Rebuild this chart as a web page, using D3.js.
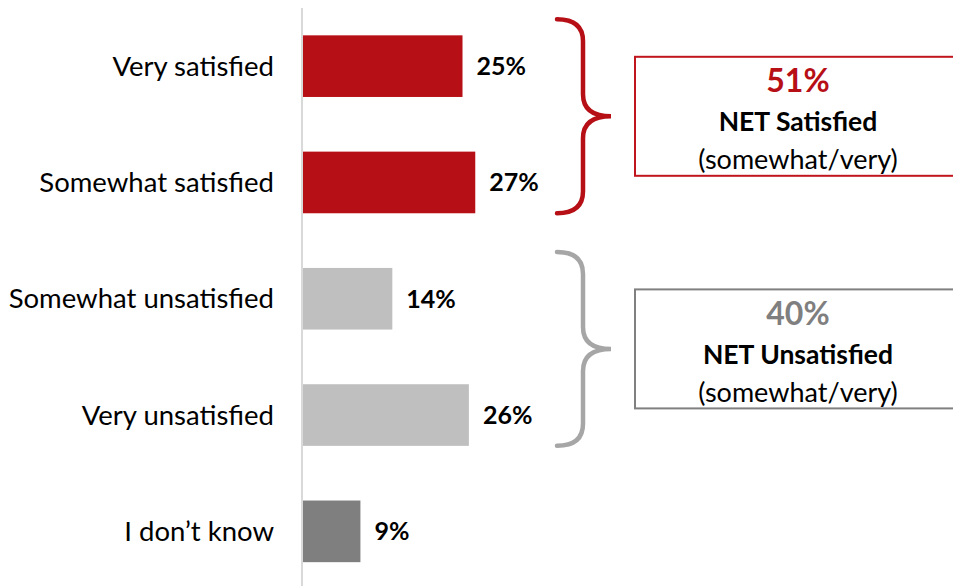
<!DOCTYPE html>
<html>
<head>
<meta charset="utf-8">
<script src="https://cdn.jsdelivr.net/npm/d3@7"></script>
<style>
  html, body { margin: 0; padding: 0; background: #ffffff; }
  svg { display: block; font-family: Lato, "Open Sans", sans-serif; }
</style>
</head>
<body>
<svg id="chart" width="953" height="586"></svg>
<script>
// Survey responses (share of respondents, %)
const categories = ["Very satisfied", "Somewhat satisfied", "Somewhat unsatisfied", "Very unsatisfied", "I don\u2019t know"];
const values = [25, 27, 14, 26, 9];
const groups = ["sat", "sat", "unsat", "unsat", "dk"];

// Net summaries shown beside the braces
const netLabels = ["NET Satisfied", "NET Unsatisfied"];
const netValues = [51, 40];
const netMembers = [["Very satisfied", "Somewhat satisfied"], ["Somewhat unsatisfied", "Very unsatisfied"]];
const netSub = "(somewhat/very)";

const barColor = { sat: "#b70f16", unsat: "#bfbfbf", dk: "#7f7f7f" };
const netColor = ["#b70f16", "#7f7f7f"];
const braceColor = ["#b70f16", "#a6a6a6"];
const boxColor = ["#c0151c", "#808080"];

const svg = d3.select("#chart");
const x0 = 303;

const x = d3.scaleLinear().domain([0, 100]).range([x0, x0 + 638]);
const y = d3.scaleBand().domain(categories).range([8, 589.5]).paddingInner(0.47).paddingOuter(0.235);

// Bars
svg.selectAll("rect.bar")
  .data(categories)
  .join("rect")
  .attr("class", "bar")
  .attr("x", x(0))
  .attr("y", d => y(d))
  .attr("width", (d, i) => x(values[i]) - x(0))
  .attr("height", y.bandwidth())
  .attr("fill", (d, i) => barColor[groups[i]]);

// Baseline axis
svg.append("line")
  .attr("x1", x0 - 1).attr("x2", x0 - 1)
  .attr("y1", 8).attr("y2", 586)
  .attr("stroke", "#d9d9d9").attr("stroke-width", 2);

// Category labels
svg.selectAll("text.cat")
  .data(categories)
  .join("text")
  .attr("class", "cat")
  .attr("x", 274)
  .attr("y", d => y(d) + y.bandwidth() / 2)
  .attr("dy", "0.35em")
  .attr("text-anchor", "end")
  .attr("font-size", 27.5)
  .attr("fill", "#000")
  .text(d => d);

// Value labels
svg.selectAll("text.val")
  .data(categories)
  .join("text")
  .attr("class", "val")
  .attr("x", (d, i) => x(values[i]) + 14)
  .attr("y", d => y(d) + y.bandwidth() / 2)
  .attr("dy", "0.35em")
  .attr("font-size", 25)
  .attr("font-weight", "bold")
  .attr("fill", "#000")
  .text((d, i) => values[i] + "%");

// Braces and net boxes
const bx0 = 557, bx1 = 583, bx2 = 611, r = 22;
netLabels.forEach((lab, k) => {
  const first = netMembers[k][0], last = netMembers[k][netMembers[k].length - 1];
  const top = y(first) - 16;
  const bot = y(last) + y.bandwidth();
  const mid = (top + bot) / 2;
  const p = d3.path();
  p.moveTo(bx0, top);
  p.quadraticCurveTo(bx1, top, bx1, top + r);
  p.lineTo(bx1, mid - r);
  p.quadraticCurveTo(bx1, mid, bx2, mid);
  p.quadraticCurveTo(bx1, mid, bx1, mid + r);
  p.lineTo(bx1, bot - r);
  p.quadraticCurveTo(bx1, bot, bx0, bot);
  svg.append("path")
    .attr("d", p.toString())
    .attr("fill", "none")
    .attr("stroke", braceColor[k])
    .attr("stroke-width", 4.5)
    .attr("stroke-linecap", "round");

  const boxH = 119, boxX = 635, boxW = 330;
  svg.append("rect")
    .attr("x", boxX).attr("y", mid - boxH / 2)
    .attr("width", boxW).attr("height", boxH)
    .attr("fill", "none")
    .attr("stroke", boxColor[k])
    .attr("stroke-width", 2);

  const cx = 798;
  svg.append("text")
    .attr("x", cx).attr("y", mid - 24)
    .attr("text-anchor", "middle")
    .attr("font-size", 32).attr("font-weight", "bold")
    .attr("fill", netColor[k])
    .text(netValues[k] + "%");
  svg.append("text")
    .attr("x", cx).attr("y", mid + 15)
    .attr("text-anchor", "middle")
    .attr("font-size", 26.5).attr("font-weight", "bold")
    .attr("fill", "#000")
    .text(lab);
  svg.append("text")
    .attr("x", cx).attr("y", mid + 53)
    .attr("text-anchor", "middle")
    .attr("font-size", 27)
    .attr("fill", "#000")
    .text(netSub);
});
</script>
</body>
</html>
